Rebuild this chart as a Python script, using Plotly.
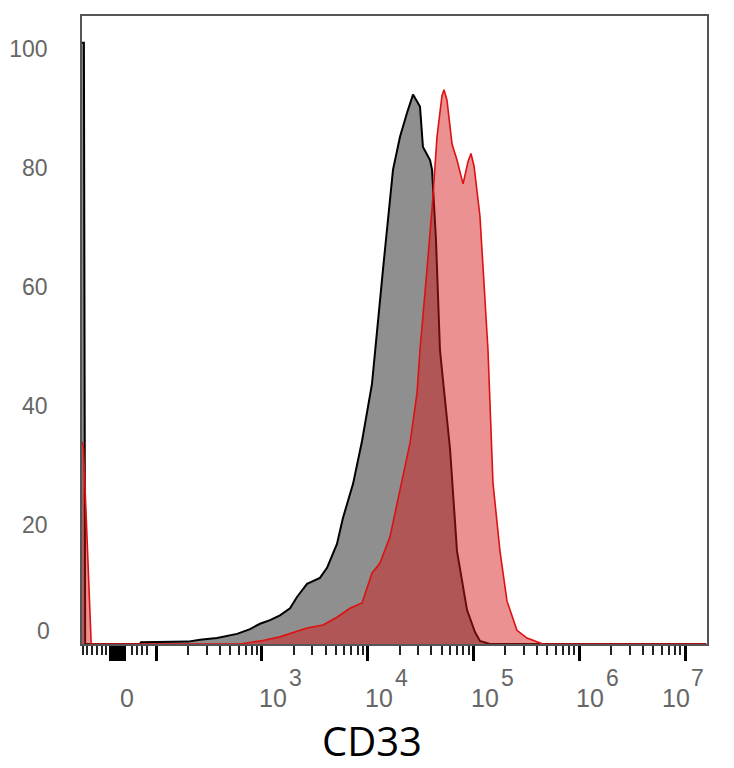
import numpy as np
import plotly.graph_objects as go

# CD33 histogram, x in display decades (biexponential display scale, 3 = 10^3)
# y = % of max
iso_x = [1.298, 1.316, 1.328, 1.846, 1.856, 2.300, 2.414, 2.574, 2.764, 2.887,
         2.981, 3.076, 3.170, 3.265, 3.331, 3.426, 3.548, 3.615, 3.709, 3.766,
         3.861, 3.946, 4.040, 4.069, 4.144, 4.239, 4.305, 4.371, 4.428, 4.494,
         4.522, 4.589, 4.608, 4.645, 4.683, 4.702, 4.778, 4.844, 4.939, 5.014,
         5.061, 5.156, 7.200]
iso_y = [101.0, 101.0, 0.0, 0.0, 0.3, 0.4, 0.7, 1.0, 1.7, 2.5,
         3.4, 4.0, 4.8, 6.0, 7.9, 10.1, 11.1, 12.8, 16.8, 21.2,
         26.9, 34.1, 43.7, 49.4, 62.9, 79.7, 85.2, 89.2, 92.3, 90.3,
         83.5, 81.3, 79.7, 68.0, 49.4, 46.0, 32.8, 15.6, 5.7, 2.0,
         0.5, 0.0, 0.0]

cd33_x = [1.300, 1.312, 1.385, 2.792, 3.009, 3.170, 3.426, 3.577, 3.709, 3.832, 3.946,
          4.040, 4.116, 4.210, 4.305, 4.400, 4.466, 4.494, 4.560, 4.608, 4.655,
          4.702, 4.721, 4.749, 4.797, 4.844, 4.901, 4.948, 4.976, 5.005, 5.061,
          5.090, 5.137, 5.184, 5.251, 5.317, 5.411, 5.506, 5.657, 7.200]
cd33_y = [34.0, 33.0, 0.0, 0.0, 0.6, 1.2, 2.7, 3.2, 4.5, 6.0, 6.9,
          11.9, 13.6, 18.0, 25.9, 33.8, 42.2, 49.4, 62.9, 73.1, 85.2,
          92.1, 93.1, 91.4, 84.0, 81.3, 77.3, 81.0, 82.4, 80.3, 71.9,
          63.0, 49.4, 27.1, 15.5, 7.2, 2.3, 1.0, 0.0, 0.0]

decades = [3, 4, 5, 6, 7]
zero_pos = 1.728
y_ticks = [20, 40, 60, 80, 100]

# axis ticks (biex scale: linear part near 0, log above 10^2)
major_ticks = [2, 3, 4, 5, 6, 7] + list(np.arange(1.572, 1.700, 0.0095))
lin_minor = [1.307, 1.345, 1.393, 1.440, 1.487, 1.525, 1.771, 1.818, 1.865, 1.913]
log_minor = [d + np.log10(k) for d in range(2, 7) for k in range(2, 10)]

fig = go.Figure()
fig.add_trace(go.Scatter(
    x=iso_x, y=iso_y, mode="lines", fill="tozeroy",
    fillcolor="#8f8f8f", line=dict(color="black", width=2),
    showlegend=False))
fig.add_trace(go.Scatter(
    x=cd33_x, y=cd33_y, mode="lines", fill="tozeroy",
    fillcolor="rgba(215,25,25,0.48)", line=dict(color="#dd1111", width=1.6),
    showlegend=False))

label_font = dict(size=25, color="#666666")
exp_font = dict(size=23, color="#666666")
annotations = []
for d in decades:
    base_shift, exp_shift = (-5, 25) if d < 7 else (-25, 4)
    annotations.append(dict(x=d, xref="x", y=0, yref="paper", text="10",
                            xanchor="left", yanchor="middle", xshift=base_shift, yshift=-54,
                            showarrow=False, font=label_font))
    annotations.append(dict(x=d, xref="x", y=0, yref="paper", text=str(d),
                            xanchor="left", yanchor="middle", xshift=exp_shift, yshift=-34,
                            showarrow=False, font=exp_font))
annotations.append(dict(x=zero_pos, xref="x", y=0, yref="paper", text="0",
                        xanchor="center", yanchor="middle", yshift=-54,
                        showarrow=False, font=label_font))
annotations.append(dict(x=0, xref="paper", y=0, yref="y", text="0",
                        xanchor="right", yanchor="middle", xshift=-30, yshift=13,
                        showarrow=False, font=dict(size=23, color="#666666")))
annotations.append(dict(x=0.464, xref="paper", y=-0.153, yref="paper", text="CD33",
                        xanchor="center", yanchor="middle", showarrow=False,
                        font=dict(family="Open Sans", size=40, color="black")))

# page body has an 8px margin, so the figure is shrunk by that much
fig.update_layout(
    width=726, height=760,
    margin=dict(l=74, r=27, t=8, b=124),
    plot_bgcolor="white", paper_bgcolor="white",
    font=dict(family="Liberation Sans", color="#666666"),
    annotations=annotations,
    xaxis=dict(
        range=[1.298, 7.208], showgrid=False, zeroline=False, automargin=False,
        showline=True, mirror=True, linecolor="#555555", linewidth=1.5,
        tickmode="array", tickvals=major_ticks, showticklabels=False,
        ticks="outside", ticklen=15, tickwidth=3, tickcolor="black",
        minor=dict(tickmode="array", tickvals=lin_minor + log_minor,
                   ticks="outside", ticklen=9, tickwidth=1.5, tickcolor="#222222")),
    yaxis=dict(
        range=[0, 105.5], showgrid=False, zeroline=False, automargin=False,
        showline=True, mirror=True, linecolor="#555555", linewidth=1.5,
        tickmode="array", tickvals=y_ticks, ticks="",
        ticklabelstandoff=28, tickfont=dict(size=23, color="#666666")),
)

fig.write_html("out.html")
